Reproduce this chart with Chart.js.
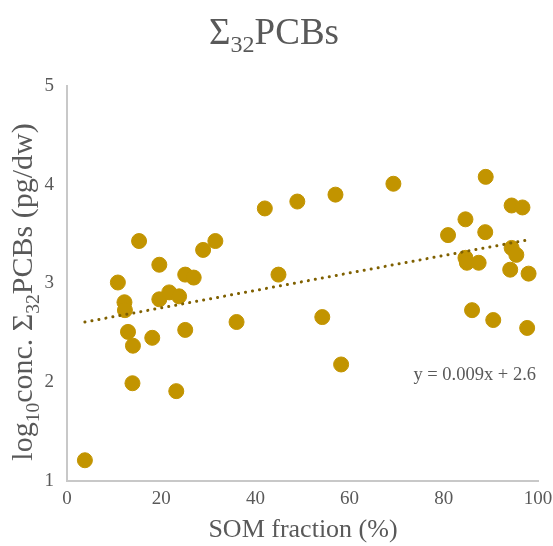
<!DOCTYPE html>
<html>
<head>
<meta charset="utf-8">
<script src="https://cdn.jsdelivr.net/npm/chart.js@4.4.1/dist/chart.umd.min.js"></script>
<style>
  body { margin: 0; background: #fff; }
  canvas { display: block; }
</style>
</head>
<body>
<canvas id="grafico" width="553" height="546"></canvas>
<script>
// SOM fraction (%) per sample
var somFraction = [3.8, 10.8, 12.2, 12.3, 12.95, 14.0, 13.9, 15.3, 18.1, 19.6, 19.6, 21.7, 23.8, 23.2,
    25.1, 25.1, 26.9, 28.9, 31.5, 36.0, 42.0, 44.9, 48.9, 54.2, 57.0, 58.2, 69.3,
    80.9, 84.6, 84.6, 84.9, 86.0, 87.4, 88.8, 88.9, 90.5, 94.1, 94.4, 94.4, 95.4, 96.7, 97.7, 98.0];
// log10 conc. of the 32 PCBs
var logConc = [1.21, 3.01, 2.81, 2.73, 2.51, 2.37, 1.99, 3.43, 2.45, 3.19, 2.84, 2.91, 2.87, 1.91,
    2.53, 3.09, 3.06, 3.34, 3.43, 2.61, 3.76, 3.09, 3.83, 2.66, 3.90, 2.18, 4.01,
    3.49, 3.65, 3.26, 3.21, 2.73, 3.21, 3.52, 4.08, 2.63, 3.14, 3.79, 3.36, 3.29, 3.77, 2.55, 3.10];
// linha de tendência (pontos extremos)
var trendX = [3.8, 97.7];
var trendY = [2.61, 3.44];

var xTicks = [0, 20, 40, 60, 80, 100];
var yTicks = [1, 2, 3, 4, 5];
var equacao = 'y = 0.009x + 2.6';

var serif = "'Liberation Serif', 'Times New Roman', serif";
var cinza = '#595959';

// desenha texto com subscritos: partes [texto, ehSubscrito]
function textoRico(ctx, partes, size) {
    var w = 0;
    partes.forEach(function (p) {
        ctx.font = (p[1] ? size * 0.65 : size) + 'px ' + serif;
        w += ctx.measureText(p[0]).width;
    });
    return w;
}
function desenhaRico(ctx, partes, size, x, y) {
    var cx = x;
    partes.forEach(function (p) {
        ctx.font = (p[1] ? size * 0.65 : size) + 'px ' + serif;
        ctx.fillText(p[0], cx, p[1] ? y + size * 0.22 : y);
        cx += ctx.measureText(p[0]).width;
    });
}

var textos = {
    id: 'textos',
    afterDraw: function (chart) {
        var ctx = chart.ctx;
        ctx.save();
        ctx.fillStyle = cinza;
        ctx.textBaseline = 'alphabetic';
        ctx.textAlign = 'left';

        // título
        var tit = [['\u03A3', false], ['32', true], ['PCBs', false]];
        var tw = textoRico(ctx, tit, 37);
        desenhaRico(ctx, tit, 37, 274 - tw / 2, 44);

        // título eixo x
        ctx.font = '26px ' + serif;
        ctx.textAlign = 'center';
        ctx.fillText('SOM fraction (%)', 303, 537);

        // título eixo y
        ctx.textAlign = 'left';
        var yt = [['log', false], ['10', true], ['conc. \u03A3', false], ['32', true], ['PCBs (pg/dw)', false]];
        var yw = textoRico(ctx, yt, 30);
        ctx.translate(32, 292);
        ctx.rotate(-Math.PI / 2);
        desenhaRico(ctx, yt, 30, -yw / 2, 0);
        ctx.restore();

        // equação da tendência
        ctx.save();
        ctx.fillStyle = cinza;
        ctx.font = '18.5px ' + serif;
        ctx.textAlign = 'right';
        ctx.fillText(equacao, 536, 380);
        ctx.restore();
    }
};

var pontos = somFraction.map(function (x, i) { return { x: x, y: logConc[i] }; });
var tendencia = trendX.map(function (x, i) { return { x: x, y: trendY[i] }; });

var ctx = document.getElementById('grafico').getContext('2d');
var grafico = new Chart(ctx, {
    type: 'scatter',
    data: {
        datasets: [
            {
                data: pontos,
                backgroundColor: '#C29400',
                borderColor: '#C29400',
                pointRadius: 7.5,
                pointHoverRadius: 7.5,
                order: 2
            },
            {
                type: 'line',
                data: tendencia,
                borderColor: '#7F6000',
                borderWidth: 3,
                borderDash: [0.1, 7],
                borderCapStyle: 'round',
                pointRadius: 0,
                fill: false,
                order: 1
            }
        ]
    },
    options: {
        responsive: false,
        animation: false,
        layout: { padding: { left: 0, right: 15, top: 86, bottom: 0 } },
        plugins: {
            legend: { display: false },
            tooltip: { enabled: false },
            title: { display: false }
        },
        scales: {
            x: {
                type: 'linear',
                min: 0,
                max: 100,
                afterBuildTicks: function (s) { s.ticks = xTicks.map(function (v) { return { value: v }; }); },
                afterFit: function (s) { s.height = 65; s.paddingRight = 0; s.paddingLeft = 0; },
                grid: { display: false, drawTicks: false },
                border: { display: true, color: '#C8C8C8', width: 2 },
                ticks: { color: cinza, font: { family: serif, size: 19 }, padding: 7, maxRotation: 0 }
            },
            y: {
                min: 1,
                max: 5,
                afterBuildTicks: function (s) { s.ticks = yTicks.map(function (v) { return { value: v }; }); },
                afterFit: function (s) { s.width = 67; },
                grid: { display: false, drawTicks: false },
                border: { display: true, color: '#C8C8C8', width: 2 },
                ticks: { color: cinza, font: { family: serif, size: 19 }, padding: 13 }
            }
        }
    },
    plugins: [textos]
});
</script>
</body>
</html>
